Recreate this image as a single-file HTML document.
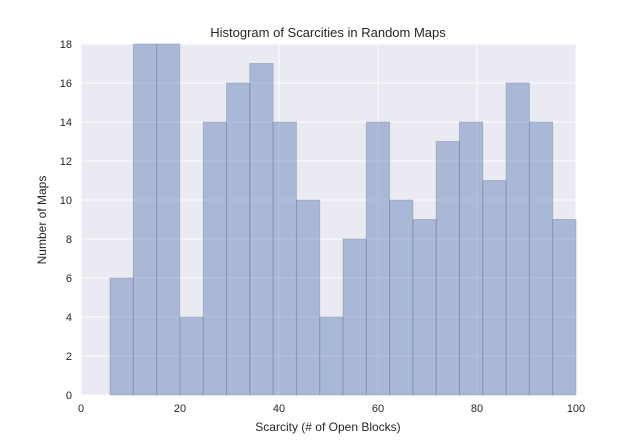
<!DOCTYPE html>
<html><head><meta charset="utf-8"><style>
body{margin:0;background:#fff;}
svg text{font-family:"Liberation Sans",sans-serif;fill:#262626;}
</style></head><body>
<svg id="chart" width="640" height="440">
<rect x="81" y="44" width="495" height="351" fill="#EAEAF2"/>
<g id="grid"></g><g id="bars"></g><g id="ticks"></g>
<text x="328" y="37" text-anchor="middle" font-size="13">Histogram of Scarcities in Random Maps</text>
<text x="328" y="431" text-anchor="middle" font-size="12">Scarcity (# of Open Blocks)</text>
<text x="46" y="220" text-anchor="middle" font-size="12" transform="rotate(-90 46 220)">Number of Maps</text>
</svg>
<script>
const counts=[6,18,18,4,14,16,17,14,10,4,8,14,10,9,13,14,11,16,14,9];
const binStart=5.86;
const binEnd=100;
const xTicks=[0,20,40,60,80,100];
const yTicks=[0,2,4,6,8,10,12,14,16,18];
const X0=81,X1=576,Y0=395,Y1=44;
const xs=v=>X0+(v-0)/100*(X1-X0);
const ys=v=>Y0-v/18*(Y0-Y1);
const NS="http://www.w3.org/2000/svg";
function mk(t,a,p){const e=document.createElementNS(NS,t);for(const k in a)e.setAttribute(k,a[k]);p.appendChild(e);return e;}
const grid=document.getElementById('grid'),bars=document.getElementById('bars'),ticks=document.getElementById('ticks');
xTicks.forEach(t=>{
 const l=mk('line',{x1:xs(t),x2:xs(t),y1:Y1,y2:Y0,stroke:'#fff','stroke-width':1},grid);
 
 
 const tx=mk('text',{x:xs(t),y:412,'text-anchor':'middle','font-size':11},ticks);tx.textContent=t;
 
 
});
yTicks.forEach(t=>{
 const l=mk('line',{x1:X0,x2:X1,y1:ys(t),y2:ys(t),stroke:'#fff','stroke-width':1},grid);
 
 
 const tx=mk('text',{x:72,y:ys(t)+4,'text-anchor':'end','font-size':11},ticks);tx.textContent=t;
 
 
});
const w=(binEnd-binStart)/counts.length;
counts.forEach((c,i)=>{
 const a=binStart+i*w,b=a+w;
 const r=mk('rect',{x:xs(a),y:ys(c),width:xs(b)-xs(a),height:Y0-ys(c),fill:'rgba(76,114,176,0.42)',stroke:'rgba(110,120,145,0.35)','stroke-width':1},bars);
 
 
});
</script>
</body></html>
